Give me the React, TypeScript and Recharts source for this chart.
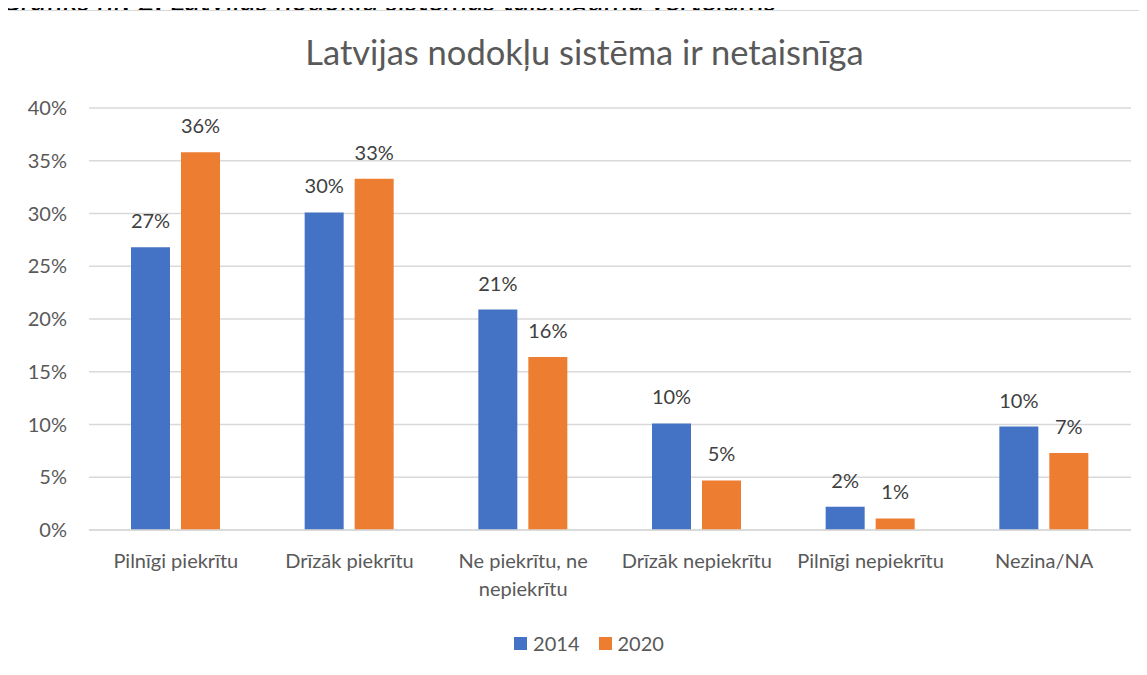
import React from "react";
import { BarChart, Bar, XAxis, YAxis, CartesianGrid, LabelList, Legend } from "recharts";

const categories = [
  "Pilnīgi piekrītu",
  "Drīzāk piekrītu",
  "Ne piekrītu, ne nepiekrītu",
  "Drīzāk nepiekrītu",
  "Pilnīgi nepiekrītu",
  "Nezina/NA",
];
const categoryLines = [
  ["Pilnīgi piekrītu"],
  ["Drīzāk piekrītu"],
  ["Ne piekrītu, ne", "nepiekrītu"],
  ["Drīzāk nepiekrītu"],
  ["Pilnīgi nepiekrītu"],
  ["Nezina/NA"],
];
const values2014 = [26.8, 30.1, 20.9, 10.1, 2.2, 9.8];
const values2020 = [35.8, 33.3, 16.4, 4.7, 1.1, 7.3];
const yTicks = [0, 5, 10, 15, 20, 25, 30, 35, 40];
const seriesNames = ["2014", "2020"];
const colors = ["#4472C4", "#ED7D31"];
const titleText = "Latvijas nodokļu sistēma ir netaisnīga";
const captionText = "Grafiks nr. 2. Latvijas nodokļu sistēmas taisnīguma vērtējums";

const data = categories.map((c, i) => ({ name: c, y2014: values2014[i], y2020: values2020[i] }));

const FONT = "Lato, 'Liberation Sans', sans-serif";
const TXT = "#595959";
const FS = 20;

const XTick = (props: any) => {
  const { x, y, payload } = props;
  const idx = categories.indexOf(payload.value);
  const lines = idx >= 0 ? categoryLines[idx] : [String(payload.value)];
  return (
    <text x={x} y={y + 30} textAnchor="middle" fontSize={FS} fontFamily={FONT} fill={TXT}>
      {lines.map((l, i) => (
        <tspan key={i} x={x} dy={i === 0 ? 0 : 28}>
          {l}
        </tspan>
      ))}
    </text>
  );
};

const LegendContent = () => (
  <div style={{ display: "flex", justifyContent: "center", alignItems: "center", fontFamily: FONT, fontSize: FS, color: TXT }}>
    {seriesNames.map((n, i) => (
      <div key={n} style={{ display: "flex", alignItems: "center", marginLeft: i === 0 ? 0 : 19 }}>
        <div style={{ width: 13, height: 13, background: colors[i], marginRight: 6 }} />
        <span>{n}</span>
      </div>
    ))}
  </div>
);

const fmt = (v: any) => `${Math.round(Number(v))}%`;

export default function App() {
  return (
    <div style={{ position: "relative", width: 1139, height: 667, fontFamily: FONT }}>
      <div
        style={{
          position: "absolute",
          top: -27,
          left: -8,
          fontSize: 31,
          lineHeight: "36px",
          fontStyle: "italic",
          whiteSpace: "nowrap",
          color: "#000",
          fontFamily: FONT,
        }}
      >
        {captionText}
      </div>
      <div
        style={{
          position: "absolute",
          top: 2,
          left: -1,
          width: 1140,
          height: 665,
          boxSizing: "border-box",
          borderLeft: "1px solid #d9d9d9",
          borderTop: "1px solid #d9d9d9",
          background: "#fff",
        }}
      >
        <div
          style={{
            position: "absolute",
            top: 20,
            left: 7,
            width: 1139,
            textAlign: "center",
            fontSize: 34.5,
            color: TXT,
            fontFamily: FONT,
            whiteSpace: "nowrap",
          }}
        >
          {titleText}
        </div>
        <div style={{ position: "absolute", top: 0, left: 1 }}>
          <BarChart
            width={1138}
            height={664}
            data={data}
            margin={{ top: 97, right: 16, left: 0, bottom: 0 }}
            barSize={39}
            barGap={11}
          >
            <CartesianGrid vertical={false} stroke="#d9d9d9" strokeWidth={1.3} />
            <XAxis
              dataKey="name"
              interval={0}
              height={115}
              tickLine={false}
              axisLine={{ stroke: "#d9d9d9", strokeWidth: 1.3 }}
              tick={<XTick />}
            />
            <YAxis
              width={80}
              domain={[0, 40]}
              ticks={yTicks}
              interval={0}
              axisLine={false}
              tickLine={false}
              tickSize={0}
              tickMargin={22}
              tickFormatter={(v: number) => `${v}%`}
              tick={{ fontSize: FS, fill: TXT, fontFamily: FONT }}
            />
            <Legend
              verticalAlign="bottom"
              content={<LegendContent />}
              wrapperStyle={{ top: 620, left: 0, width: 1160, height: 30 }}
            />
            <Bar dataKey="y2014" name={seriesNames[0]} fill={colors[0]} isAnimationActive={false}>
              <LabelList
                dataKey="y2014"
                position="top"
                offset={19}
                formatter={fmt}
                fontSize={FS}
                fill="#404040"
                fontFamily={FONT}
              />
            </Bar>
            <Bar dataKey="y2020" name={seriesNames[1]} fill={colors[1]} isAnimationActive={false}>
              <LabelList
                dataKey="y2020"
                position="top"
                offset={19}
                formatter={fmt}
                fontSize={FS}
                fill="#404040"
                fontFamily={FONT}
              />
            </Bar>
          </BarChart>
        </div>
      </div>
    </div>
  );
}
